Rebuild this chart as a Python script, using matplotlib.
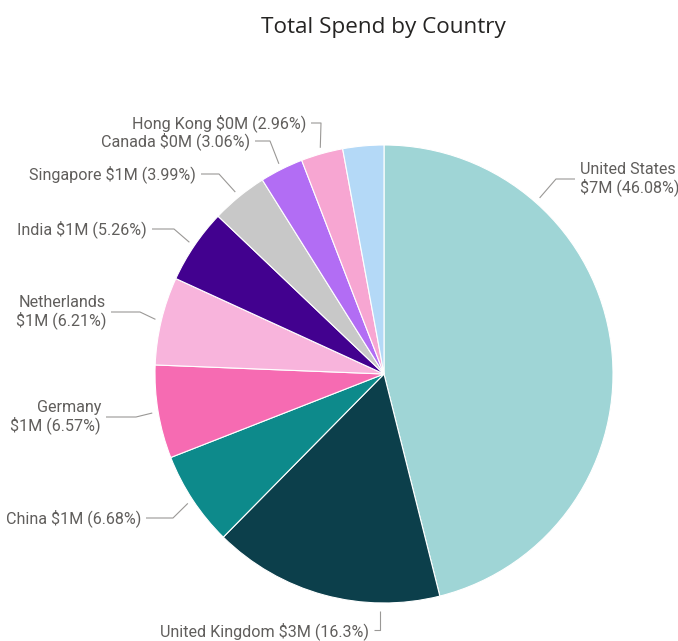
import numpy as np
import matplotlib
matplotlib.use("Agg")
import matplotlib.pyplot as plt

# Spend share by country, in pie order (clockwise from 12 o'clock)
countries = ["United States", "United Kingdom", "China", "Germany", "Netherlands",
             "India", "Singapore", "Canada", "Hong Kong", ""]
spend_musd = [7, 3, 1, 1, 1, 1, 1, 0, 0, 0]
share_pct = [46.08, 16.3, 6.68, 6.57, 6.21, 5.26, 3.99, 3.06, 2.96, 2.89]
colors = ["#9fd5d6", "#0c3f4b", "#0d8a8b", "#f66bb2", "#f8b4dc",
          "#42018f", "#c8c8c8", "#b26df4", "#f7a6d2", "#b4d9f7"]

W, H = 678, 641
CX, CY, R = 384, 374, 229

# label placement: text anchor (x, y from top), alignment, line break, elbow x,
# and where along the slice the leader attaches (0 = start, 1 = end)
label_layout = {
    "United States": (580, 179, "left", True, 556, 0.25),
    "United Kingdom": (369, 631, "right", False, 380, 0.26),
    "China": (141, 518, "right", False, 173, 0.5),
    "Germany": (101, 417, "right", True, 136, 0.5),
    "Netherlands": (106, 312, "right", True, 140, 0.5),
    "India": (147, 229, "right", False, 174, 0.5),
    "Singapore": (196, 174, "right", False, 219, 0.5),
    "Canada": (250, 141, "right", False, 270, 0.5),
    "Hong Kong": (306, 123, "right", False, 321, 0.5),
}

fig = plt.figure(figsize=(W / 100, H / 100), dpi=100)
ax = fig.add_axes([0, 0, 1, 1])

wedges, _ = ax.pie(share_pct, colors=colors, startangle=90, counterclock=False,
                   center=(CX, H - CY), radius=R,
                   wedgeprops=dict(edgecolor="white", linewidth=0.8))
# pie() sets its own limits, so fix the pixel frame afterwards
ax.set_xlim(0, W)
ax.set_ylim(0, H)
ax.set_aspect("equal")
ax.axis("off")

ax.text(383, H - 27, "Total Spend by Country", ha="center", va="center",
        fontsize=16.2, color="#252423", family="Open Sans")

gray = "#9a9896"
for w, name, m, p in zip(wedges, countries, spend_musd, share_pct):
    if name not in label_layout:
        continue
    tx, ty, ha, wrap, ex, frac = label_layout[name]
    # wedge theta1/theta2 are counterclockwise degrees
    ang = np.radians(w.theta2 - frac * (w.theta2 - w.theta1))
    px = CX + (R + 6) * np.cos(ang)
    py = CY - (R + 6) * np.sin(ang)
    end_x = tx + 5 if ha == "right" else tx - 5
    if name == "United Kingdom":
        # leader drops straight down from the slice
        xs = [end_x, ex, ex]
        ys = [ty - 1, ty - 1, CY + R + 8]
    else:
        xs = [end_x, ex, px]
        ys = [ty, ty, py]
    ax.plot(xs, [H - y for y in ys], color=gray, lw=0.8, solid_capstyle="butt")
    pct = f"{p:g}%"
    if wrap:
        txt = f"{name}\n${m}M ({pct})"
    else:
        txt = f"{name} ${m}M ({pct})"
    ax.text(tx, H - ty, txt, ha=ha, va="center", multialignment=ha,
            fontsize=11.6, color="#605e5c", family="Roboto", linespacing=1.05)

fig.savefig("out.png", dpi=100)
